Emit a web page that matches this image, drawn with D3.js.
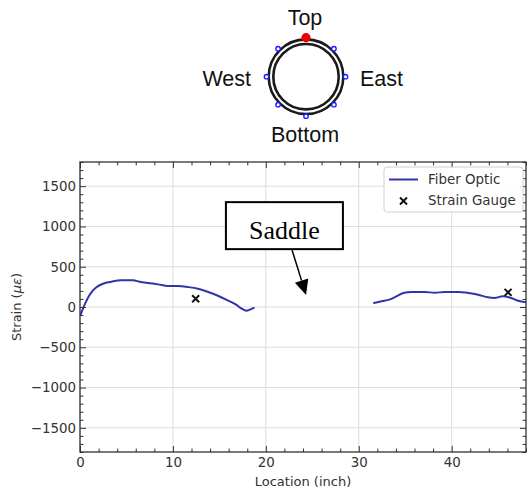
<!DOCTYPE html>
<html>
<head>
<meta charset="utf-8">
<script src="https://cdn.jsdelivr.net/npm/d3@7"></script>
<style>
  body { margin: 0; background: #fff; }
  svg { display: block; }
</style>
</head>
<body>
<script>
// ---------- data ----------
const fiberX1 = [0.07, 0.5, 1.04, 1.76, 2.48, 3.37, 4.45, 5.71, 6.42, 7.32, 8.4, 9.47, 10.55, 11.6, 12.7, 13.8, 14.85, 15.9, 16.8, 17.4, 17.9, 18.3, 18.7];
const fiberY1 = [-95, 29, 153, 244, 289, 314, 331, 331, 314, 298, 281, 260, 260, 248, 227, 186, 140, 83, 29, -21, -46, -33, -12];
const fiberX2 = [31.65, 32.45, 33.3, 34.05, 34.8, 35.7, 37.1, 38.2, 39.25, 40.7, 41.8, 42.85, 43.9, 44.6, 45.5, 46.4, 47.15, 48.04];
const fiberY2 = [50, 71, 91, 133, 174, 186, 186, 177, 186, 186, 174, 153, 120, 112, 133, 112, 78, 58];
const gaugeX = [12.45, 46.07];
const gaugeY = [103, 182];
const xMajorTicks = [0, 10, 20, 30, 40];
const yMajorTicks = [-1500, -1000, -500, 0, 500, 1000, 1500];
const xDomain = [0, 48];
const yDomain = [-1800, 1800];
const legendLabels = ["Fiber Optic", "Strain Gauge"];
const annotationText = "Saddle";
const annotationTextPos = [22.0, 1010];   // data coords of box centre
const annotationTip = [24.33, 150];       // data coords of arrow tip
const sensorAngles = [45, 90, 135, 180, 225, 270, 315]; // degrees (0 = top, clockwise) blue
const activeAngle = [0];                                 // red
const compassLabels = ["Top", "East", "Bottom", "West"];

// ---------- layout ----------
const W = 527, H = 489;
const plot = { left: 80, right: 526, top: 162, bottom: 452 };
const lineColor = "#3333aa";
const axisColor = "#333";

const svg = d3.select("body").append("svg").attr("width", W).attr("height", H);
svg.append("rect").attr("width", W).attr("height", H).attr("fill", "#fff");

const x = d3.scaleLinear().domain(xDomain).range([plot.left, plot.right]);
const y = d3.scaleLinear().domain(yDomain).range([plot.bottom, plot.top]);

const xMinor = d3.range(xDomain[0], xDomain[1] + 0.001, 2).filter(v => v % 10 !== 0);
const yMinor = d3.range(yDomain[0], yDomain[1] + 0.001, 100).filter(v => v % 500 !== 0);

// grid
const grid = svg.append("g").attr("stroke", "#dcdcdc").attr("stroke-width", 1);
xMajorTicks.forEach(v => grid.append("line")
  .attr("x1", x(v)).attr("x2", x(v)).attr("y1", plot.top).attr("y2", plot.bottom));
yMajorTicks.forEach(v => grid.append("line")
  .attr("y1", y(v)).attr("y2", y(v)).attr("x1", plot.left).attr("x2", plot.right));

// clip
svg.append("clipPath").attr("id", "clip").append("rect")
  .attr("x", plot.left).attr("y", plot.top)
  .attr("width", plot.right - plot.left).attr("height", plot.bottom - plot.top);

// fiber lines
const lineGen = d3.line().x(d => x(d[0])).y(d => y(d[1])).curve(d3.curveMonotoneX);
const seg1 = fiberX1.map((v, i) => [v, fiberY1[i]]);
const seg2 = fiberX2.map((v, i) => [v, fiberY2[i]]);
const lines = svg.append("g").attr("clip-path", "url(#clip)");
[seg1, seg2].forEach(seg => lines.append("path").attr("d", lineGen(seg))
  .attr("fill", "none").attr("stroke", lineColor).attr("stroke-width", 2)
  .attr("stroke-linejoin", "round").attr("stroke-linecap", "round"));

// strain gauge markers
function xMark(g, cx, cy, s) {
  g.append("path")
    .attr("d", `M${cx - s},${cy - s}L${cx + s},${cy + s}M${cx - s},${cy + s}L${cx + s},${cy - s}`)
    .attr("stroke", "#111").attr("stroke-width", 2).attr("fill", "none");
}
gaugeX.forEach((v, i) => xMark(svg, x(v), y(gaugeY[i]), 3.5));

// axes (ticks inward on all sides)
const fontTick = "DejaVu Sans, sans-serif";
function styleAxis(g) {
  g.select(".domain").remove();
  g.selectAll(".tick line").attr("stroke", axisColor).attr("stroke-width", 1);
  g.selectAll("text").attr("fill", axisColor).attr("font-family", fontTick).attr("font-size", "13.4px");
}
// bottom
svg.append("g").attr("transform", `translate(0,${plot.bottom})`)
  .call(d3.axisBottom(x).tickValues(xMajorTicks).tickSizeInner(-6).tickSizeOuter(0).tickPadding(5.5).tickFormat(d3.format("d")))
  .call(styleAxis);
svg.append("g").attr("transform", `translate(0,${plot.bottom})`)
  .call(d3.axisBottom(x).tickValues(xMinor).tickSizeInner(-3.5).tickSizeOuter(0).tickFormat(""))
  .call(styleAxis);
// top
svg.append("g").attr("transform", `translate(0,${plot.top})`)
  .call(d3.axisTop(x).tickValues(xMajorTicks).tickSizeInner(-6).tickSizeOuter(0).tickFormat(""))
  .call(styleAxis);
svg.append("g").attr("transform", `translate(0,${plot.top})`)
  .call(d3.axisTop(x).tickValues(xMinor).tickSizeInner(-3.5).tickSizeOuter(0).tickFormat(""))
  .call(styleAxis);
// left
svg.append("g").attr("transform", `translate(${plot.left},0)`)
  .call(d3.axisLeft(y).tickValues(yMajorTicks).tickSizeInner(-6).tickSizeOuter(0).tickPadding(4)
    .tickFormat(d => d < 0 ? "\u2212" + Math.abs(d) : String(d)))
  .call(styleAxis);
svg.append("g").attr("transform", `translate(${plot.left},0)`)
  .call(d3.axisLeft(y).tickValues(yMinor).tickSizeInner(-3.5).tickSizeOuter(0).tickFormat(""))
  .call(styleAxis);
// right
svg.append("g").attr("transform", `translate(${plot.right},0)`)
  .call(d3.axisRight(y).tickValues(yMajorTicks).tickSizeInner(-6).tickSizeOuter(0).tickFormat(""))
  .call(styleAxis);
svg.append("g").attr("transform", `translate(${plot.right},0)`)
  .call(d3.axisRight(y).tickValues(yMinor).tickSizeInner(-3.5).tickSizeOuter(0).tickFormat(""))
  .call(styleAxis);

// frame
svg.append("rect").attr("x", plot.left).attr("y", plot.top)
  .attr("width", plot.right - plot.left).attr("height", plot.bottom - plot.top)
  .attr("fill", "none").attr("stroke", axisColor).attr("stroke-width", 1.3);

// axis labels
svg.append("text").attr("x", (plot.left + plot.right) / 2).attr("y", 486)
  .attr("text-anchor", "middle").attr("font-family", fontTick).attr("font-size", "13px")
  .attr("fill", axisColor).text("Location (inch)");
const yl = svg.append("text").attr("transform", `translate(21,${(plot.top + plot.bottom) / 2}) rotate(-90)`)
  .attr("text-anchor", "middle").attr("font-family", fontTick).attr("font-size", "13px").attr("fill", axisColor);
yl.append("tspan").text("Strain (");
yl.append("tspan").attr("font-style", "italic").text("\u03bc\u03b5");
yl.append("tspan").text(")");

// legend
const lg = svg.append("g");
lg.append("rect").attr("x", 384).attr("y", 167).attr("width", 139).attr("height", 45).attr("rx", 3)
  .attr("fill", "#fff").attr("fill-opacity", 0.85).attr("stroke", "#d0d0d0").attr("stroke-width", 1);
lg.append("line").attr("x1", 389).attr("x2", 418).attr("y1", 179.5).attr("y2", 179.5)
  .attr("stroke", lineColor).attr("stroke-width", 2);
xMark(lg, 403.5, 201, 3.5);
legendLabels.forEach((t, i) => lg.append("text").attr("x", 428).attr("y", 184 + i * 21)
  .attr("font-family", fontTick).attr("font-size", "13.4px").attr("fill", axisColor).text(t));

// annotation
const bx = x(annotationTextPos[0]), by = y(annotationTextPos[1]);
const bw = 117, bh = 47;
const tipX = x(annotationTip[0]), tipY = y(annotationTip[1]);
const boxBottom = by + bh / 2;
const dx = tipX - bx, dy = tipY - by;
const t0 = (boxBottom + 1 - by) / dy;
const sx = bx + dx * t0, sy = by + dy * t0;
const len = Math.hypot(tipX - sx, tipY - sy);
const ux = (tipX - sx) / len, uy = (tipY - sy) / len;
const headL = 15, headW = 7;
const baseX = tipX - ux * headL, baseY = tipY - uy * headL;
svg.append("line").attr("x1", sx).attr("y1", sy).attr("x2", baseX).attr("y2", baseY)
  .attr("stroke", "#000").attr("stroke-width", 1.5);
svg.append("path")
  .attr("d", `M${tipX},${tipY}L${baseX - uy * headW},${baseY + ux * headW}L${baseX + uy * headW},${baseY - ux * headW}Z`)
  .attr("fill", "#000");
svg.append("rect").attr("x", bx - bw / 2).attr("y", by - bh / 2).attr("width", bw).attr("height", bh)
  .attr("fill", "#fff").attr("stroke", "#000").attr("stroke-width", 2);
svg.append("text").attr("x", bx).attr("y", by + 13).attr("text-anchor", "middle")
  .attr("font-family", "Liberation Serif, Times New Roman, serif").attr("font-size", "26px")
  .attr("fill", "#000").text(annotationText);

// ---------- pipe cross-section diagram ----------
const cx = 306, cy = 76.7;
const dg = svg.append("g");
dg.append("circle").attr("cx", cx).attr("cy", cy).attr("r", 37.3)
  .attr("fill", "none").attr("stroke", "#1a1a1a").attr("stroke-width", 2.6);
dg.append("circle").attr("cx", cx).attr("cy", cy).attr("r", 32.7)
  .attr("fill", "none").attr("stroke", "#1a1a1a").attr("stroke-width", 2.6);
const sensorR = 39.5;
sensorAngles.forEach(a => {
  const r = a * Math.PI / 180;
  dg.append("circle").attr("cx", cx + sensorR * Math.sin(r)).attr("cy", cy - sensorR * Math.cos(r))
    .attr("r", 2.2).attr("fill", "#fff").attr("stroke", "#1f1fff").attr("stroke-width", 1.4);
});
activeAngle.forEach(a => {
  const r = a * Math.PI / 180;
  dg.append("circle").attr("cx", cx + 39 * Math.sin(r)).attr("cy", cy - 39 * Math.cos(r))
    .attr("r", 4.6).attr("fill", "#ee0000");
});
const labFont = "Liberation Sans, Arial, sans-serif";
const labPos = [
  { x: 305, y: 25, anchor: "middle" },
  { x: 360, y: 86, anchor: "start" },
  { x: 305, y: 142, anchor: "middle" },
  { x: 251, y: 86, anchor: "end" }
];
compassLabels.forEach((t, i) => dg.append("text").attr("x", labPos[i].x).attr("y", labPos[i].y)
  .attr("text-anchor", labPos[i].anchor).attr("font-family", labFont).attr("font-size", "21.5px")
  .attr("fill", "#111").text(t));
</script>
</body>
</html>
